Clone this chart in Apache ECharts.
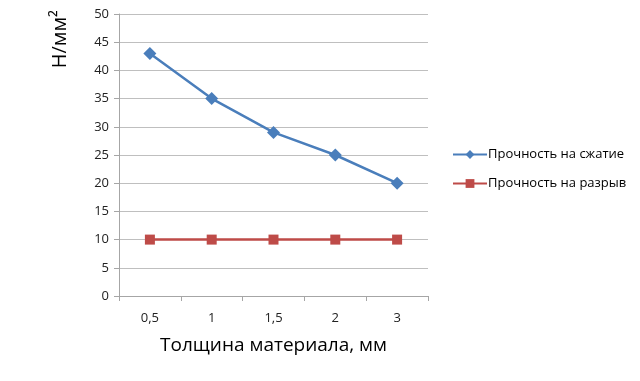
<!DOCTYPE html>
<html><head><meta charset="utf-8">
<script src="https://cdn.jsdelivr.net/npm/echarts@6/dist/echarts.min.js"></script>
<style>html,body{margin:0;padding:0;background:#fff}#c{width:640px;height:381px}</style>
</head><body><div id="c"></div>
<script>
const categories = ['0,5', '1', '1,5', '2', '3'];
const compression = [43, 35, 29, 25, 20];
const tension = [10, 10, 10, 10, 10];
const seriesNames = ['Прочность на сжатие', 'Прочность на разрыв'];
const yTicks = { min: 0, max: 50, interval: 5 };
const FONT = 'Open Sans';
const chart = echarts.init(document.getElementById('c'));
chart.setOption({
  animation: false,
  backgroundColor: '#fff',
  textStyle: { fontFamily: FONT },
  grid: { left: 119, right: 212, top: 14, bottom: 85 },
  legend: {
    orient: 'vertical', left: 447, top: 143, itemGap: 16, itemWidth: 34, itemHeight: 11,
    textStyle: { fontFamily: FONT, fontSize: 13, color: '#000', padding: [0, 0, 0, -4] },
    data: seriesNames
  },
  xAxis: {
    type: 'category', data: categories, boundaryGap: true,
    name: 'Толщина материала, мм', nameLocation: 'middle', nameGap: 40,
    nameTextStyle: { fontFamily: FONT, fontSize: 19, color: '#000' },
    axisLine: { lineStyle: { color: '#a6a6a6' } },
    axisTick: { show: true, length: 5, lineStyle: { color: '#a6a6a6' } },
    axisLabel: { fontFamily: FONT, fontSize: 13, color: '#222', margin: 16 }
  },
  yAxis: {
    type: 'value', min: yTicks.min, max: yTicks.max, interval: yTicks.interval,
    axisLine: { show: true, lineStyle: { color: '#a6a6a6' } },
    axisTick: { show: true, length: 5, lineStyle: { color: '#a6a6a6' } },
    axisLabel: { fontFamily: FONT, fontSize: 13, color: '#222', margin: 10 },
    splitLine: { lineStyle: { color: '#bfbfbf' } }
  },
  graphic: [{
    type: 'text', left: 50, top: 10, rotation: Math.PI / 2,
    style: { text: 'Н/мм²', font: '20px "Open Sans"', fill: '#000' }
  }],
  series: [
    { name: seriesNames[0], type: 'line', data: compression, symbol: 'diamond', symbolSize: 13,
      itemStyle: { color: '#4a7ebb' }, lineStyle: { width: 2.5, color: '#4a7ebb' } },
    { name: seriesNames[1], type: 'line', data: tension, symbol: 'rect', symbolSize: 10,
      itemStyle: { color: '#be4b48' }, lineStyle: { width: 2.5, color: '#be4b48' } }
  ]
});
</script></body></html>
